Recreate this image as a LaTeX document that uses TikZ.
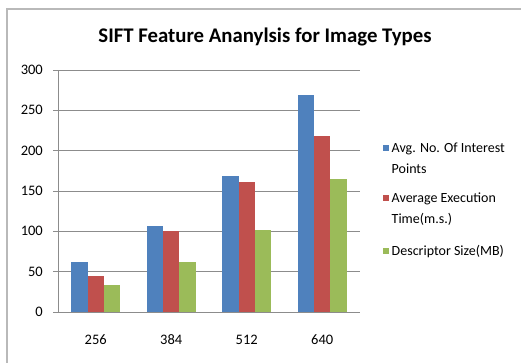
\documentclass[tikz,border=0pt]{standalone}
\usepackage{fontspec}
\setmainfont{Carlito}
\usepackage{xcolor}
\usetikzlibrary{positioning}

\definecolor{barblue}{HTML}{4F81BD}
\definecolor{barred}{HTML}{C0504D}
\definecolor{bargreen}{HTML}{9BBB59}
\definecolor{gridgray}{HTML}{8C8C8C}

\tikzset{
  gridline/.style={gridgray, line width=0.8pt},
  ticklabel/.style={font=\fontsize{14.5}{16}\selectfont, inner sep=0pt},
  legkey/.style={minimum width=6pt, minimum height=6.5pt, inner sep=0pt},
  legtext/.style={font=\fontsize{14}{16}\selectfont, inner sep=0pt, anchor=base west}
}

\begin{document}
\begin{tikzpicture}[x=1pt, y=1pt]
\useasboundingbox (0,0) rectangle (521,362);

% Chart frame
\draw[gray!55, line width=1.2pt] (7,-10) |- (540,353);

% Title
\node[font=\bfseries\fontsize{20.8}{24}\selectfont] (title) at (265,325) {SIFT Feature Ananylsis for Image Types};

\begin{scope}[shift={(58,50)}, y=0.8067pt]

% Gridlines and value labels
\foreach \v in {0,50,...,300} {
    \draw[gridline] (-5,\v) -- (302,\v);
    \node[ticklabel, anchor=east] (val\v) at (-15,\v) {\v};
}

% Bars per image size
\foreach \i/\cat/\a/\b/\c in {0/256/62/45/34, 1/384/107/100/62, 2/512/168/161/102, 3/640/269/218/165} {
    \pgfmathsetmacro{\xc}{37.75+75.5*\i}
    \fill[barblue] (\xc-24.5,0) rectangle (\xc-8.17,\a);
    \fill[barred] (\xc-8.17,0) rectangle (\xc+8.17,\b);
    \fill[bargreen] (\xc+8.17,0) rectangle (\xc+24.5,\c);
    \node[ticklabel] (cat\cat) at (\xc,-34.7) {\cat};
}

% Axes
\draw[gridline] (0,0) -- (0,300);
\draw[gridline] (-5,0) -- (302,0);

\end{scope}

% Legend
\node[legkey, fill=barblue] (keyA) at (386,214) {};
\node[legtext] (labA) at (391.5,209.5) {Avg. No. Of Interest};
\node[legtext] (labAb) at ([yshift=-20.5pt]labA.base west) {Points};

\node[legkey, fill=barred] (keyB) at (386,164) {};
\node[legtext] (labB) at (391.5,159.5) {Average Execution};
\node[legtext] (labBb) at ([yshift=-20.5pt]labB.base west) {Time(m.s.)};

\node[legkey, fill=bargreen] (keyC) at (386,111) {};
\node[legtext] (labC) at (391.5,106.5) {Descriptor Size(MB)};

\end{tikzpicture}
\end{document}
